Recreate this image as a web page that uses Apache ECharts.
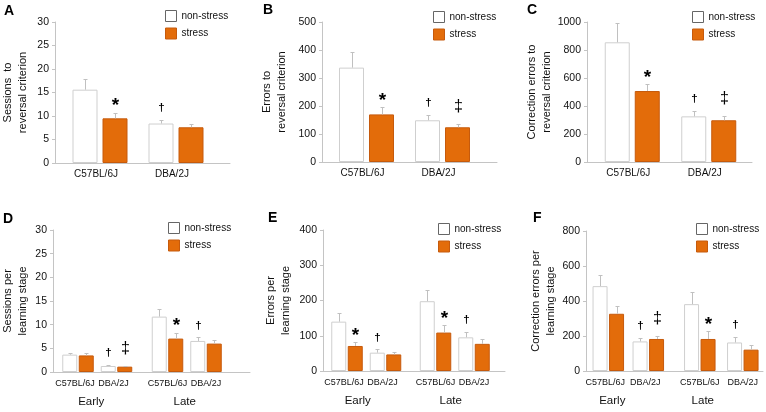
<!DOCTYPE html>
<html><head><meta charset="utf-8">
<script src="https://cdn.jsdelivr.net/npm/echarts@6/dist/echarts.min.js"></script>
<style>html,body{margin:0;padding:0;background:#fff}#c{width:766px;height:412px}</style>
</head><body><div id="c"></div>
<script>
// ---------- data ----------
const strains = ['C57BL/6J', 'DBA/2J'];
const stages = ['Early', 'Late'];
const groupNames = ['non-stress', 'stress'];

// A: sessions to reversal criterion
const sessRevNon = [15.6, 8.4];   const sessRevNonSE = [2.2, 0.7];  const sessRevNonSig = ['', '†'];
const sessRevStr = [9.5, 7.6];    const sessRevStrSE = [1.2, 0.8];  const sessRevStrSig = ['*', ''];
// B: errors to reversal criterion
const errRevNon = [337, 149];     const errRevNonSE = [55, 18];     const errRevNonSig = ['', '†'];
const errRevStr = [170, 124];     const errRevStrSE = [25, 11];     const errRevStrSig = ['*', '‡'];
// C: correction errors to reversal criterion
const corRevNon = [855, 326];     const corRevNonSE = [135, 38];    const corRevNonSig = ['', '†'];
const corRevStr = [507, 298];     const corRevStrSE = [50, 28];     const corRevStrSig = ['*', '‡'];
// D: sessions per learning stage
const sessEarlyNon = [3.67, 1.27]; const sessEarlyNonSE = [0.43, 0.28]; const sessEarlyNonSig = ['', '†'];
const sessEarlyStr = [3.5, 1.13];  const sessEarlyStrSE = [0.5, 0.17];  const sessEarlyStrSig = ['', '‡'];
const sessLateNon = [11.7, 6.56];  const sessLateNonSE = [1.6, 0.74];   const sessLateNonSig = ['', '†'];
const sessLateStr = [7.06, 6.0];   const sessLateStrSE = [1.24, 0.7];   const sessLateStrSig = ['*', ''];
// E: errors per learning stage
const errEarlyNon = [140, 52];   const errEarlyNonSE = [24, 9];    const errEarlyNonSig = ['', '†'];
const errEarlyStr = [71, 47];    const errEarlyStrSE = [10, 6];    const errEarlyStrSig = ['*', ''];
const errLateNon = [198, 95.5];  const errLateNonSE = [32, 14.5];  const errLateNonSig = ['', '†'];
const errLateStr = [109, 77];    const errLateStrSE = [21, 13];    const errLateStrSig = ['*', ''];
// F: correction errors per learning stage
const corEarlyNon = [485, 169];  const corEarlyNonSE = [63, 21];   const corEarlyNonSig = ['', '†'];
const corEarlyStr = [327, 183];  const corEarlyStrSE = [46, 17];   const corEarlyStrSig = ['', '‡'];
const corLateNon = [382, 163];   const corLateNonSE = [70, 33];    const corLateNonSig = ['', '†'];
const corLateStr = [183, 122];   const corLateStrSE = [45, 26];    const corLateStrSig = ['*', ''];

// ---------- style ----------
const FONT = 'Liberation Sans, Arial, sans-serif';
const TXT = '#111';
const AXIS = '#c4c4c4';
const NS_BORDER = '#cfcfcf';
const ORANGE = '#E36C0A';
const ORANGE_D = '#C65A0C';
const ERR = '#c0c0c0';
const SIG = {
  '*': {size: 19, weight: 'bold', rise: 11, dy: 4.5},
  '†': {size: 11.5, weight: 'bold', rise: 12, dy: 0},
  '‡': {size: 16, weight: 'normal', rise: 17.5, dy: 0}
};

const grid = [], xAxis = [], yAxis = [], series = [], legend = [], title = [];

function addFrame(p) {
  const gi = grid.length;
  grid.push({left: p.axisX, width: p.axisEnd - p.axisX, top: p.top, height: p.y0 - p.top});
  xAxis.push({gridIndex: gi, type: 'value', min: 0, max: 1,
    axisLine: {show: true, lineStyle: {color: AXIS}}, axisTick: {show: false},
    axisLabel: {show: false}, splitLine: {show: false}});
  yAxis.push({gridIndex: gi, type: 'value', min: 0, max: p.max, interval: p.interval,
    axisLine: {show: true, lineStyle: {color: AXIS}},
    axisTick: {show: true, length: 3, lineStyle: {color: AXIS}},
    axisLabel: {fontSize: 10.5, color: TXT, margin: 6, fontFamily: FONT, formatter: v => String(v)},
    splitLine: {show: false},
    name: p.yName, nameLocation: 'middle', nameGap: p.nameGap, nameRotate: 90,
    nameTextStyle: {fontSize: 11, lineHeight: 14.5, color: TXT, fontFamily: FONT}});
  legend.push({left: p.legX, top: p.legY, orient: 'vertical', padding: 0,
    itemWidth: 11, itemHeight: 11, itemGap: 5.5, icon: 'rect', selectedMode: false,
    data: [
      {name: groupNames[0], itemStyle: {color: '#fff', borderColor: '#666', borderWidth: 1}},
      {name: groupNames[1], itemStyle: {color: ORANGE, borderColor: ORANGE_D, borderWidth: 1}}
    ],
    textStyle: {fontSize: 10, color: TXT, fontFamily: FONT}});
  title.push({text: p.letter, left: p.letX, top: p.letY, padding: 0,
    textStyle: {fontSize: 14, fontWeight: 'bold', color: '#000', fontFamily: FONT}});
}

function errorSeries(xi, yi, vals, se, sig, side, barW, gapPx) {
  return {
    type: 'custom', xAxisIndex: xi, yAxisIndex: yi, silent: true, z: 3,
    data: vals.map((v, i) => [i, v, se[i]]),
    renderItem(params, api) {
      const i = api.value(0), v = api.value(1), e = api.value(2);
      const base = api.coord([i, v]);
      const top = api.coord([i, v + e]);
      const x = Math.round(base[0] + side * (barW + gapPx) / 2) + 0.5;
      const yt = Math.round(top[1]) + 0.5;
      const children = [
        {type: 'line', shape: {x1: x, y1: base[1], x2: x, y2: yt}, style: {stroke: ERR, lineWidth: 1}},
        {type: 'line', shape: {x1: x - 2, y1: yt, x2: x + 2, y2: yt}, style: {stroke: ERR, lineWidth: 1}}
      ];
      const s = sig[params.dataIndex];
      if (s) {
        const st = SIG[s];
        children.push({type: 'text', style: {text: s, x: x, y: top[1] - st.rise + st.dy,
          align: 'center', verticalAlign: 'middle', textAlign: 'center', textVerticalAlign: 'middle',
          fontSize: st.size, fontWeight: st.weight, fontFamily: FONT, fill: '#000'}});
      }
      return {type: 'group', children};
    }
  };
}

function addData(p) {
  const gi = grid.length;
  grid.push({left: p.left, width: p.width, top: p.top, height: p.y0 - p.top});
  const xi = xAxis.length, yi = yAxis.length;
  const gapPx = p.barW * p.gapPct / 100;
  const xa = {gridIndex: gi, type: 'category', data: strains,
    axisLine: {show: false}, axisTick: {show: false},
    axisLabel: {fontSize: p.labelSize, color: TXT, margin: p.labelMargin, fontFamily: FONT,
      interval: 0, padding: [0, p.labelShift > 0 ? 0 : -2 * p.labelShift, 0, p.labelShift > 0 ? 2 * p.labelShift : 0]}};
  if (p.name) {
    xa.name = p.name; xa.nameLocation = 'middle'; xa.nameGap = p.nameGap;
    xa.nameTextStyle = {fontSize: 11.5, color: TXT, fontFamily: FONT,
      padding: [0, p.nameShift < 0 ? -2 * p.nameShift : 0, 0, p.nameShift > 0 ? 2 * p.nameShift : 0]};
  }
  xAxis.push(xa);
  yAxis.push({gridIndex: gi, type: 'value', min: 0, max: p.max, show: false});
  series.push({type: 'bar', name: groupNames[0], xAxisIndex: xi, yAxisIndex: yi, data: p.non,
    barWidth: p.barW, barGap: p.gapPct + '%', silent: true,
    itemStyle: {color: '#fff', borderColor: NS_BORDER, borderWidth: 1}});
  series.push({type: 'bar', name: groupNames[1], xAxisIndex: xi, yAxisIndex: yi, data: p.str,
    barWidth: p.barW, barGap: p.gapPct + '%', silent: true,
    itemStyle: {color: ORANGE, borderColor: ORANGE_D, borderWidth: 1}});
  series.push(errorSeries(xi, yi, p.non, p.nonSE, p.nonSig, -1, p.barW, gapPx));
  series.push(errorSeries(xi, yi, p.str, p.strSE, p.strSig, 1, p.barW, gapPx));
}

// ---------- panels A-C ----------
const topRow = [
  {letter: 'A', letX: 4, letY: 4, axisX: 52, axisEnd: 230, top: 22, y0: 163, max: 30, interval: 5,
   yName: 'Sessions  to\nreversal criterion', nameGap: 25, legX: 165, legY: 10, dataLeft: 62, dataW: 152,
   d: [sessRevNon, sessRevNonSE, sessRevNonSig, sessRevStr, sessRevStrSE, sessRevStrSig]},
  {letter: 'B', letX: 263, letY: 3, axisX: 322, axisEnd: 497, top: 22, y0: 162, max: 500, interval: 100,
   yName: 'Errors to\nreversal criterion', nameGap: 33, legX: 433, legY: 11, dataLeft: 328.5, dataW: 152,
   d: [errRevNon, errRevNonSE, errRevNonSig, errRevStr, errRevStrSE, errRevStrSig]},
  {letter: 'C', letX: 527, letY: 3, axisX: 587, axisEnd: 752, top: 22, y0: 162, max: 1000, interval: 200,
   yName: 'Correction errors to\nreversal criterion', nameGap: 31, legX: 692, legY: 11, dataLeft: 594, dataW: 153,
   d: [corRevNon, corRevNonSE, corRevNonSig, corRevStr, corRevStrSE, corRevStrSig]}
];
topRow.forEach(p => {
  addFrame(p);
  addData({left: p.dataLeft, width: p.dataW, top: p.top, y0: p.y0, max: p.max, barW: 25, gapPct: 20,
    labelSize: 10, labelMargin: 6, labelShift: -4,
    non: p.d[0], nonSE: p.d[1], nonSig: p.d[2], str: p.d[3], strSE: p.d[4], strSig: p.d[5]});
});

// ---------- panels D-F ----------
const bottomRow = [
  {letter: 'D', letX: 3, letY: 212, axisX: 52, axisEnd: 250, top: 230, y0: 372, max: 30, interval: 5,
   yName: 'Sessions per\nlearning stage', nameGap: 23, legX: 168, legY: 222,
   early: {left: 58.75, width: 77, shift: -6}, late: {left: 148.25, width: 77, shift: -2},
   e: [sessEarlyNon, sessEarlyNonSE, sessEarlyNonSig, sessEarlyStr, sessEarlyStrSE, sessEarlyStrSig],
   l: [sessLateNon, sessLateNonSE, sessLateNonSig, sessLateStr, sessLateStrSE, sessLateStrSig]},
  {letter: 'E', letX: 268, letY: 211, axisX: 323, axisEnd: 505, top: 230, y0: 371, max: 400, interval: 100,
   yName: 'Errors per\nlearning stage', nameGap: 30, legX: 438, legY: 223,
   early: {left: 327.75, width: 77, shift: -8.5}, late: {left: 416.25, width: 77, shift: -4},
   e: [errEarlyNon, errEarlyNonSE, errEarlyNonSig, errEarlyStr, errEarlyStrSE, errEarlyStrSig],
   l: [errLateNon, errLateNonSE, errLateNonSig, errLateStr, errLateStrSE, errLateStrSig]},
  {letter: 'F', letX: 533, letY: 211, axisX: 586, axisEnd: 763, top: 231, y0: 371, max: 800, interval: 200,
   yName: 'Correction errors per\nlearning stage', nameGap: 28, legX: 696, legY: 223,
   early: {left: 588.3, width: 80, shift: -16}, late: {left: 678.3, width: 86, shift: -18.5},
   e: [corEarlyNon, corEarlyNonSE, corEarlyNonSig, corEarlyStr, corEarlyStrSE, corEarlyStrSig],
   l: [corLateNon, corLateNonSE, corLateNonSig, corLateStr, corLateStrSE, corLateStrSig]}
];
bottomRow.forEach(p => {
  addFrame(p);
  [[p.early, p.e, stages[0], -3], [p.late, p.l, stages[1], 0]].forEach(([g, d, nm, ls]) => {
    addData({left: g.left, width: g.width, top: p.top, y0: p.y0, max: p.max, barW: 15, gapPct: 10,
      labelSize: 9, labelMargin: 7, labelShift: ls, name: nm, nameGap: 24, nameShift: g.shift,
      non: d[0], nonSE: d[1], nonSig: d[2], str: d[3], strSE: d[4], strSig: d[5]});
  });
});

const chart = echarts.init(document.getElementById('c'), null, {renderer: 'canvas'});
chart.setOption({
  animation: false,
  backgroundColor: '#fff',
  textStyle: {fontFamily: FONT},
  title, grid, xAxis, yAxis, legend, series
});
</script>
</body></html>
